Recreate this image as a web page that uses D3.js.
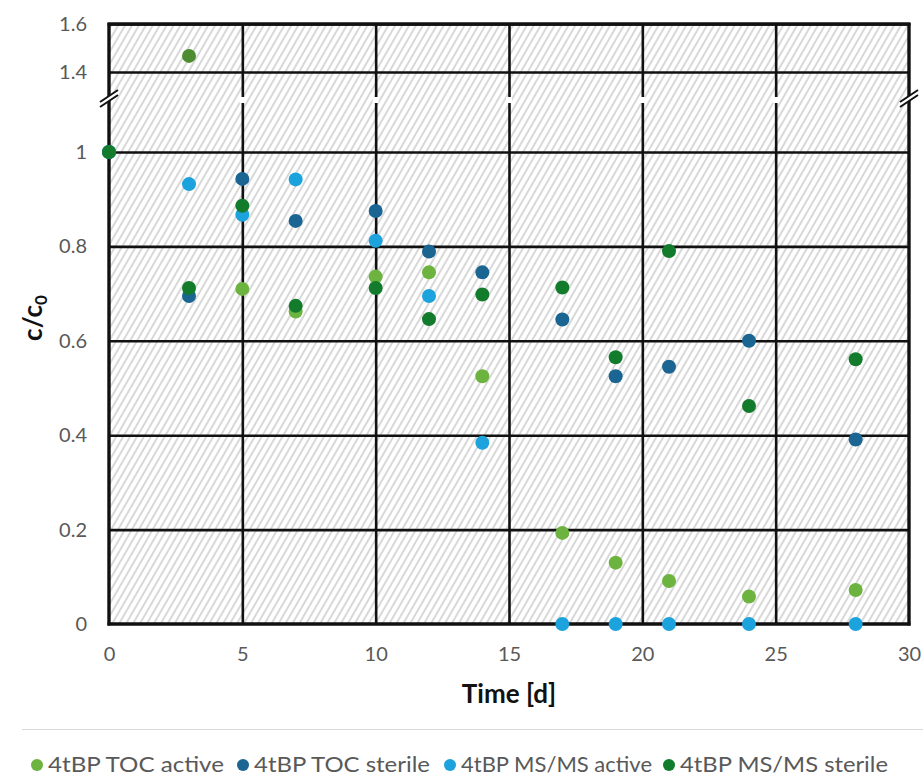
<!DOCTYPE html>
<html>
<head>
<meta charset="utf-8">
<script src="https://cdn.jsdelivr.net/npm/d3@7"></script>
<style>
  html, body { margin: 0; padding: 0; background: #ffffff; }
  svg { display: block; }
</style>
</head>
<body>
<svg id="chart" width="923" height="779"></svg>
<script>
// Sampling days
const days = [0, 3, 5, 7, 10, 12, 14, 17, 19, 21, 24, 28];

// Relative concentration c/c0 per series
const tocActive  = [1, 1.467, 0.710, 0.662, 0.736, 0.745, 0.525, 0.193, 0.130, 0.091, 0.058, 0.072];
const tocSterile = [1, 0.695, 0.943, 0.854, 0.875, 0.789, 0.745, 0.645, 0.525, 0.545, 0.600, 0.391];
const msActive   = [1, 0.932, 0.867, 0.942, 0.812, 0.695, 0.384, 0, 0, 0, 0, 0];
const msSterile  = [1, 0.712, 0.886, 0.674, 0.712, 0.646, 0.698, 0.713, 0.565, 0.790, 0.462, 0.561];

const seriesNames = ["4tBP TOC active", "4tBP TOC sterile", "4tBP MS/MS active", "4tBP MS/MS sterile"];

// Axis ticks
const xTicks = [0, 5, 10, 15, 20, 25, 30];
const yTicks = [0, 0.2, 0.4, 0.6, 0.8, 1, 1.4, 1.6];

const colors = ["#6db33f", "#1a6591", "#1ca3dd", "#137b2c"];
const upperPaneFill = "#4e8c31";

const svg = d3.select("#chart");
const plotL = 109, plotR = 909, plotT = 24, plotB = 624;

const x = d3.scaleLinear().domain([0, 30]).range([plotL, plotR]);
// broken axis: 0–1 in the lower pane, 1.4–1.6 in the upper pane
const y = d3.scaleLinear().domain([0, 1, 1.4, 1.6]).range([plotB, 152, 72, plotT]);
const breakY = 100;

// hatched plot background
const defs = svg.append("defs");
const pat = defs.append("pattern")
  .attr("id", "hatch")
  .attr("patternUnits", "userSpaceOnUse")
  .attr("width", 6).attr("height", 6)
  .attr("patternTransform", "rotate(30)");
pat.append("rect").attr("width", 6).attr("height", 6).attr("fill", "#ffffff");
pat.append("line").attr("x1", 1).attr("y1", -1).attr("x2", 1).attr("y2", 7)
  .attr("stroke", "#cfcfcf").attr("stroke-width", 1.6);

svg.append("rect")
  .attr("x", plotL).attr("y", plotT)
  .attr("width", plotR - plotL).attr("height", plotB - plotT)
  .attr("fill", "url(#hatch)");

// gridlines
const grid = svg.append("g");
grid.append("g")
  .attr("transform", `translate(0,${plotB})`)
  .call(d3.axisBottom(x).tickValues(xTicks.slice(1, -1)).tickSize(-(plotB - plotT)).tickFormat(""))
  .call(g => g.select(".domain").remove())
  .call(g => g.selectAll("line").attr("stroke", "#111").attr("stroke-width", 2.6));
grid.append("g")
  .attr("transform", `translate(${plotL},0)`)
  .call(d3.axisLeft(y).tickValues(yTicks.slice(1)).tickSize(-(plotR - plotL)).tickFormat(""))
  .call(g => g.select(".domain").remove())
  .call(g => g.selectAll("line").attr("stroke", "#111").attr("stroke-width", 2.6));

// gaps in the vertical gridlines at the axis break
svg.append("g").selectAll("rect")
  .data(xTicks.slice(1, -1))
  .join("rect")
  .attr("x", d => x(d) - 3).attr("y", breakY - 3)
  .attr("width", 6).attr("height", 6)
  .attr("fill", "#ffffff");

// frame: left and bottom axes, right border
const frame = svg.append("g").attr("stroke", "#111").attr("stroke-width", 3.4).attr("fill", "none");
frame.append("line").attr("x1", plotL).attr("x2", plotL).attr("y1", plotT - 1).attr("y2", plotB + 1.5);
frame.append("line").attr("x1", plotL - 1.5).attr("x2", plotR + 1.5).attr("y1", plotB).attr("y2", plotB);
frame.append("line").attr("x1", plotR).attr("x2", plotR).attr("y1", plotT - 1).attr("y2", plotB + 1.5);
frame.append("line").attr("x1", plotL - 1.5).attr("x2", plotR + 1.5).attr("y1", plotT).attr("y2", plotT);

// break marks on both vertical axes
function breakMark(cx) {
  const g = svg.append("g");
  g.append("polygon")
    .attr("points", `${cx - 9},${breakY + 7} ${cx + 9},${breakY - 5} ${cx + 9},${breakY - 10} ${cx - 9},${breakY + 2}`)
    .attr("fill", "#ffffff");
  [0, 5].forEach(o => {
    g.append("line")
      .attr("x1", cx - 9).attr("y1", breakY + 2 + o)
      .attr("x2", cx + 9).attr("y2", breakY - 10 + o)
      .attr("stroke", "#111").attr("stroke-width", 2);
  });
}
breakMark(plotL);
breakMark(plotR);

// tick labels
const labelFont = "Lato, 'Open Sans', sans-serif";
svg.append("g")
  .attr("transform", `translate(0,${plotB})`)
  .call(d3.axisBottom(x).tickValues(xTicks).tickSize(0).tickPadding(23).tickFormat(d => String(d)))
  .call(g => g.select(".domain").remove())
  .call(g => g.selectAll("text").attr("font-family", labelFont).attr("font-size", 20).attr("fill", "#595959"));
svg.append("g")
  .attr("transform", `translate(${plotL},0)`)
  .call(d3.axisLeft(y).tickValues(yTicks).tickSize(0).tickPadding(22).tickFormat(d => String(d)))
  .call(g => g.select(".domain").remove())
  .call(g => g.selectAll("text").attr("font-family", labelFont).attr("font-size", 20).attr("fill", "#595959"));

// axis titles
svg.append("text")
  .attr("x", 509).attr("y", 703)
  .attr("text-anchor", "middle")
  .attr("font-family", labelFont).attr("font-weight", "bold").attr("font-size", 26)
  .attr("fill", "#111")
  .text("Time [d]");

const yTitle = svg.append("text")
  .attr("transform", "translate(42,318) rotate(-90)")
  .attr("text-anchor", "middle")
  .attr("font-family", labelFont).attr("font-weight", "bold").attr("font-size", 26)
  .attr("fill", "#111");
yTitle.append("tspan").text("c/c");
yTitle.append("tspan").attr("font-size", 17).attr("dy", 5).text("0");

// data points
const allSeries = [tocActive, tocSterile, msActive, msSterile];
const pts = svg.append("g");
allSeries.forEach((vals, si) => {
  pts.append("g").selectAll("circle")
    .data(days.map((d, i) => ({ day: d, v: vals[i] })))
    .join("circle")
    .attr("cx", d => x(d.day))
    .attr("cy", d => y(d.v))
    .attr("r", 7)
    .attr("fill", d => d.v > 1.2 ? upperPaneFill : colors[si]);
});

// legend
svg.append("line")
  .attr("x1", 22).attr("x2", 923).attr("y1", 729.5).attr("y2", 729.5)
  .attr("stroke", "#d9d9d9").attr("stroke-width", 1);

const legendMarkX = [37, 243, 450, 669];
const legendTextEnd = [224, 430, 652, 888];
const lg = svg.append("g");
seriesNames.forEach((name, i) => {
  lg.append("circle").attr("cx", legendMarkX[i]).attr("cy", 765).attr("r", 6).attr("fill", colors[i]);
  lg.append("text")
    .attr("x", legendMarkX[i] + 11).attr("y", 772)
    .attr("font-family", "'Liberation Sans Narrow', Lato, sans-serif")
    .attr("font-size", 21).attr("fill", "#595959")
    .attr("textLength", legendTextEnd[i] - legendMarkX[i] - 11)
    .attr("lengthAdjust", "spacingAndGlyphs")
    .text(name);
});
</script>
</body>
</html>
